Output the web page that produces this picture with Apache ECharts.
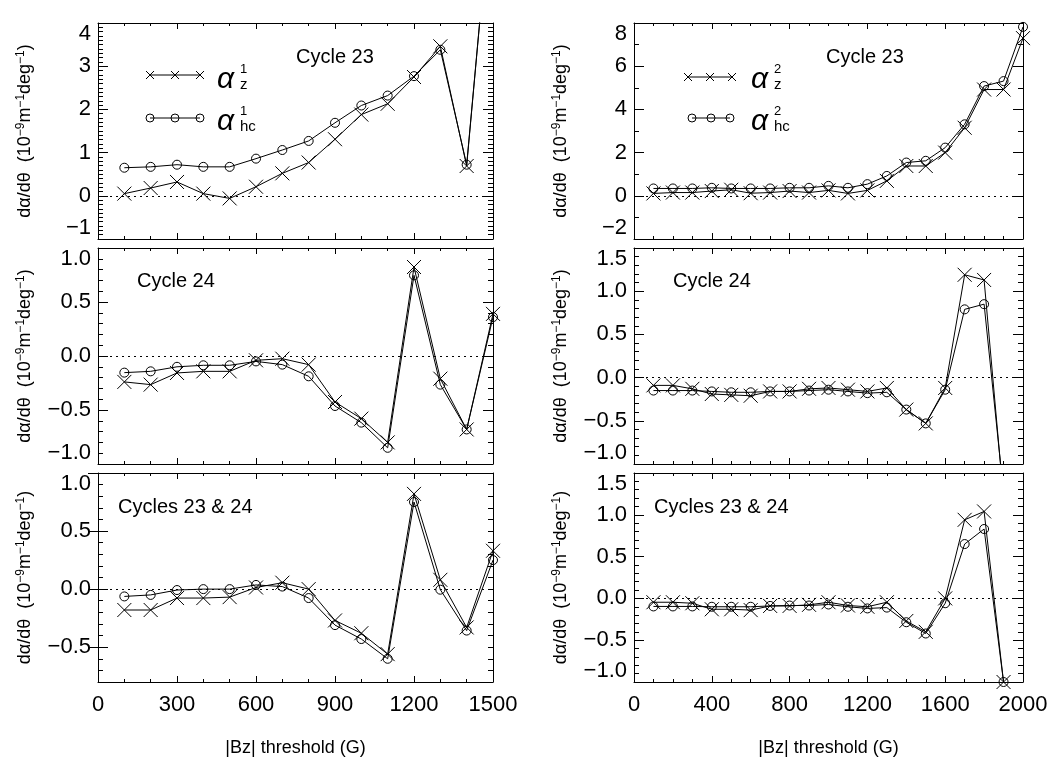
<!DOCTYPE html>
<html><head><meta charset="utf-8">
<script src="https://cdn.jsdelivr.net/npm/echarts@6/dist/echarts.min.js"></script>
<style>html,body{margin:0;padding:0;background:#fff}#c{width:1060px;height:758px}</style>
</head><body><div id="c"></div>
<script>
// ---------- data ----------
const thresholdsLeft  = [100,200,300,400,500,600,700,800,900,1000,1100,1200,1300,1400,1500];
const thresholdsRight = [100,200,300,400,500,600,700,800,900,1000,1100,1200,1300,1400,1500,1600,1700,1800,1900,2000];

// alpha^1 (left column)
const c23_alphaZ1    = [0.05,0.18,0.32,0.05,-0.06,0.21,0.52,0.77,1.31,1.88,2.13,2.75,3.46,0.69,7.4];
const c23_alphaHc1   = [0.65,0.67,0.72,0.67,0.67,0.86,1.06,1.27,1.69,2.09,2.32,2.77,3.38,0.72,7.4];
const c24_alphaZ1    = [-0.24,-0.265,-0.157,-0.142,-0.142,-0.04,-0.025,-0.08,-0.426,-0.58,-0.80,0.824,-0.21,-0.68,0.39];
const c24_alphaHc1   = [-0.154,-0.142,-0.10,-0.086,-0.086,-0.05,-0.08,-0.188,-0.463,-0.617,-0.85,0.747,-0.265,-0.68,0.36];
const c2324_alphaZ1  = [-0.18,-0.18,-0.077,-0.077,-0.069,0.014,0.055,0.0,-0.27,-0.38,-0.56,0.82,0.08,-0.33,0.33];
const c2324_alphaHc1 = [-0.063,-0.05,-0.008,0.0,0.0,0.036,0.022,-0.077,-0.31,-0.43,-0.60,0.75,-0.005,-0.357,0.25];

// alpha^2 (right column)
const c23_alphaZ2    = [0.11,0.15,0.15,0.22,0.28,0.12,0.15,0.22,0.15,0.25,0.11,0.25,0.69,1.38,1.38,2.0,3.15,4.92,4.92,7.3];
const c23_alphaHc2   = [0.34,0.34,0.34,0.37,0.34,0.34,0.34,0.37,0.37,0.46,0.37,0.54,0.92,1.54,1.62,2.23,3.31,5.08,5.31,7.82];
const c24_alphaZ2    = [-0.09,-0.09,-0.13,-0.19,-0.20,-0.21,-0.16,-0.16,-0.13,-0.12,-0.14,-0.16,-0.12,-0.37,-0.53,-0.12,1.19,1.13,-1.4];
const c24_alphaHc2   = [-0.15,-0.15,-0.15,-0.16,-0.17,-0.17,-0.16,-0.16,-0.15,-0.14,-0.16,-0.18,-0.17,-0.37,-0.53,-0.14,0.79,0.85,-1.33];
const c2324_alphaZ2  = [-0.046,-0.046,-0.058,-0.13,-0.13,-0.14,-0.09,-0.09,-0.077,-0.046,-0.085,-0.10,-0.046,-0.27,-0.40,0.0,0.94,1.04,-1.0];
const c2324_alphaHc2 = [-0.096,-0.096,-0.096,-0.10,-0.10,-0.10,-0.09,-0.085,-0.085,-0.073,-0.10,-0.12,-0.11,-0.285,-0.42,-0.058,0.65,0.83,-1.0];

const panelLabels = ['Cycle 23','Cycle 23','Cycle 24','Cycle 24','Cycles 23 & 24','Cycles 23 & 24'];
const xAxisTitle = '|Bz| threshold (G)';
const customMajorTicksL3 = [-0.5, 0, 0.5, 1.0];

// ---------- layout ----------
const FONT = "'Liberation Sans', Arial, Helvetica, sans-serif";
const MINUS = '\u2212';
const fmt = dec => v => (Math.abs(v) < 1e-9 ? 0 : v).toFixed(dec).replace('-', MINUS);

const panels = [
  {grid:{left:98, top:23, width:395, height:216}, x:{min:0,max:1500,interval:300,split:3}, y:{min:-1,max:4,interval:1,split:10,dec:0}, bottom:false, xs:thresholdsLeft, z:c23_alphaZ1, hc:c23_alphaHc1},
  {grid:{left:634,top:23, width:389, height:216}, x:{min:0,max:2000,interval:400,split:4}, y:{min:-2,max:8,interval:2,split:2,dec:0}, bottom:false, xs:thresholdsRight, z:c23_alphaZ2, hc:c23_alphaHc2},
  {grid:{left:98, top:248,width:395, height:216}, x:{min:0,max:1500,interval:300,split:3}, y:{min:-1,max:1,interval:0.5,split:5,dec:1}, bottom:false, xs:thresholdsLeft, z:c24_alphaZ1, hc:c24_alphaHc1},
  {grid:{left:634,top:248,width:389, height:216}, x:{min:0,max:2000,interval:400,split:4}, y:{min:-1,max:1.5,interval:0.5,split:5,dec:1}, bottom:false, xs:thresholdsRight, z:c24_alphaZ2, hc:c24_alphaHc2},
  {grid:{left:98, top:473,width:395, height:216}, x:{min:0,max:1500,interval:300,split:3}, y:{min:-0.8,max:1,interval:0.5,minor:0.1,dec:1,custom:customMajorTicksL3}, bottom:true, xs:thresholdsLeft, z:c2324_alphaZ1, hc:c2324_alphaHc1},
  {grid:{left:634,top:473,width:389, height:216}, x:{min:0,max:2000,interval:400,split:4}, y:{min:-1,max:1.5,interval:0.5,split:5,dec:1}, bottom:true, xs:thresholdsRight, z:c2324_alphaZ2, hc:c2324_alphaHc2}
];

const black = {color:'#000', width:1};
const xAxes = [], yAxes = [], series = [];
const yNameRich = {
  n:{fontSize:18, fontFamily:FONT, color:'#000'},
  s:{fontSize:12, fontFamily:FONT, color:'#000', verticalAlign:'top', padding:[0,0,9,0]}
};
const yName = '{n|d\u03B1/d\u03B8  (10}{s|\u22129}{n|m}{s|\u22121}{n|deg}{s|\u22121}{n|)}';

panels.forEach((p, g) => {
  const xb = xAxes.length;
  const xBase = {
    gridIndex:g, type:'value', min:p.x.min, max:p.x.max, interval:p.x.interval,
    splitLine:{show:false},
    axisLine:{show:true, onZero:false, lineStyle:black},
    axisTick:{show:true, inside:true, length:6, lineStyle:black},
    minorTick:{show:true, splitNumber:p.x.split, length:3, lineStyle:black}
  };
  xAxes.push(Object.assign({}, xBase, {
    position:'bottom',
    axisLabel:{show:p.bottom, fontSize:22, fontFamily:FONT, color:'#000', margin:12, formatter: v => String(v)},
    name: p.bottom ? xAxisTitle : '', nameLocation:'middle', nameGap:57,
    nameTextStyle:{fontSize:18, fontFamily:FONT, color:'#000'}
  }));
  xAxes.push(Object.assign({}, xBase, {position:'top', axisLabel:{show:false}}));

  const yb = yAxes.length;
  const labelBase = {fontSize:22, fontFamily:FONT, color:'#000', margin:7,
    showMinLabel:true, showMaxLabel:true,
    verticalAlignMaxLabel:'top', verticalAlignMinLabel:'bottom'};
  ['left','right'].forEach((pos, k) => {
    const isLeft = k === 0;
    if (p.y.custom) {
      const step = p.y.interval;
      yAxes.push({
        gridIndex:g, type:'value', position:pos, min:p.y.min, max:p.y.max, interval:p.y.minor,
        splitLine:{show:false},
        axisLine:{show:true, onZero:false, lineStyle:black},
        axisTick:{show:true, inside:true, length:5, lineStyle:black},
        minorTick:{show:false},
        axisLabel: Object.assign({}, labelBase, {show:isLeft,
          formatter: v => (Math.abs(v/step - Math.round(v/step)) < 1e-6 ? fmt(p.y.dec)(v) : '')}),
        name: isLeft ? yName : '', nameLocation:'middle', nameGap:62, nameRotate:90,
        nameTextStyle:{rich:yNameRich}
      });
      yAxes.push({
        gridIndex:g, type:'value', position:pos, min:p.y.min, max:p.y.max, interval:p.y.minor,
        splitLine:{show:false}, axisLine:{show:false}, axisLabel:{show:false},
        axisTick:{show:true, inside:true, length:10, lineStyle:black, customValues:p.y.custom},
        minorTick:{show:false}
      });
    } else {
      yAxes.push({
        gridIndex:g, type:'value', position:pos, min:p.y.min, max:p.y.max, interval:p.y.interval,
        splitLine:{show:false},
        axisLine:{show:true, onZero:false, lineStyle:black},
        axisTick:{show:true, inside:true, length:10, lineStyle:black},
        minorTick:{show:true, splitNumber:p.y.split, length:5, lineStyle:black},
        axisLabel: Object.assign({}, labelBase, {show:isLeft, formatter:fmt(p.y.dec)}),
        name: isLeft ? yName : '', nameLocation:'middle', nameGap:62, nameRotate:90,
        nameTextStyle:{rich:yNameRich}
      });
    }
  });

  series.push({
    type:'line', xAxisIndex:xb, yAxisIndex:yb, animation:false,
    data: p.z.map((v,i) => [p.xs[i], v]),
    symbol:'path://M0,0L10,10M10,0L0,10', symbolSize:14, symbolKeepAspect:true,
    itemStyle:{color:'none', borderColor:'#000', borderWidth:1},
    lineStyle:{color:'#000', width:1},
    markLine:{silent:true, symbol:['none','none'], label:{show:false}, animation:false,
      lineStyle:{color:'#000', width:1, type:[2,4]}, data:[{yAxis:0}]}
  });
  series.push({
    type:'line', xAxisIndex:xb, yAxisIndex:yb, animation:false,
    data: p.hc.map((v,i) => [p.xs[i], v]),
    symbol:'circle', symbolSize:9,
    itemStyle:{color:'rgba(0,0,0,0)', borderColor:'#000', borderWidth:1},
    lineStyle:{color:'#000', width:1}
  });
});

// ---------- annotations & legends ----------
const graphic = [];
const labelPos = [[296,57],[826,57],[137,281],[673,281],[118,507],[654,507]];
panelLabels.forEach((t,i) => graphic.push({type:'text', x:labelPos[i][0], y:labelPos[i][1],
  style:{text:t, font:'20px ' + FONT, fill:'#000', align:'left', verticalAlign:'middle'}}));

function crossLegend(xs, y, h) {
  graphic.push({type:'line', shape:{x1:xs[0], y1:y, x2:xs[xs.length-1], y2:y}, style:{stroke:'#000', lineWidth:1}});
  xs.forEach(x => {
    graphic.push({type:'line', shape:{x1:x-h, y1:y-h, x2:x+h, y2:y+h}, style:{stroke:'#000', lineWidth:1}});
    graphic.push({type:'line', shape:{x1:x-h, y1:y+h, x2:x+h, y2:y-h}, style:{stroke:'#000', lineWidth:1}});
  });
}
function circleLegend(xs, y, r) {
  graphic.push({type:'line', shape:{x1:xs[0], y1:y, x2:xs[xs.length-1], y2:y}, style:{stroke:'#000', lineWidth:1}});
  xs.forEach(x => graphic.push({type:'circle', shape:{cx:x, cy:y, r:r}, style:{stroke:'#000', fill:null, lineWidth:1}}));
}
function alphaLabel(x, y, sup, sub) {
  graphic.push({type:'text', x:x, y:y, style:{text:'\u03B1', font:'italic 30px ' + FONT, fill:'#000', align:'left', verticalAlign:'middle'}});
  graphic.push({type:'text', x:x+23, y:y-11, style:{text:sup, font:'13px ' + FONT, fill:'#000', align:'left', verticalAlign:'middle'}});
  graphic.push({type:'text', x:x+23, y:y+5, style:{text:sub, font:'15px ' + FONT, fill:'#000', align:'left', verticalAlign:'middle'}});
}
crossLegend([150,175,200], 75, 4);
circleLegend([150,175,200], 118, 4);
alphaLabel(217, 80, '1', 'z');
alphaLabel(217, 122, '1', 'hc');
crossLegend([688,710,732], 77, 4);
circleLegend([692,711,730], 118, 4);
alphaLabel(751, 80, '2', 'z');
alphaLabel(751, 122, '2', 'hc');

const chart = echarts.init(document.getElementById('c'));
chart.setOption({
  backgroundColor:'#fff',
  animation:false,
  grid: panels.map(p => Object.assign({containLabel:false, show:false}, p.grid)),
  xAxis: xAxes,
  yAxis: yAxes,
  series: series,
  graphic: graphic
});
</script>
</body></html>
